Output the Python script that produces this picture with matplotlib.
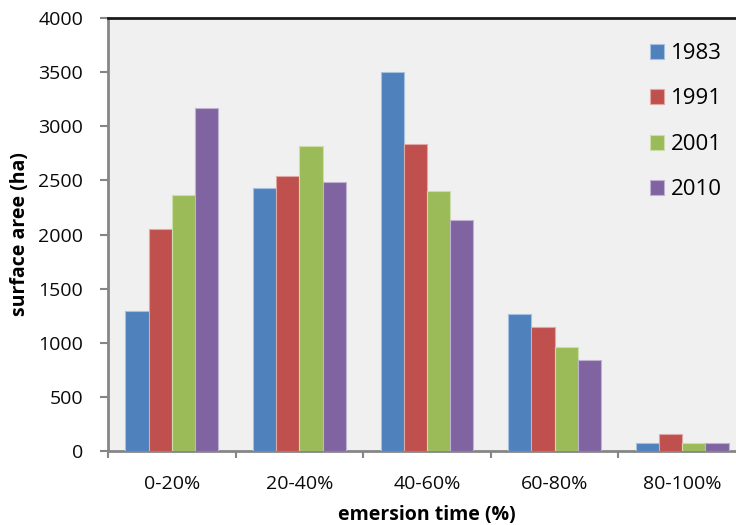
import matplotlib
matplotlib.use("Agg")
import matplotlib.pyplot as plt
import numpy as np

plt.rcParams['font.family'] = ['Open Sans', 'DejaVu Sans']

categories = ["0-20%", "20-40%", "40-60%", "60-80%", "80-100%"]
years = ["1983", "1991", "2001", "2010"]
area_1983 = [1290, 2425, 3505, 1270, 75]
area_1991 = [2050, 2545, 2835, 1150, 155]
area_2001 = [2365, 2820, 2405, 960, 75]
area_2010 = [3170, 2485, 2130, 840, 75]
series = [area_1983, area_1991, area_2001, area_2010]
colors = ["#4F81BD", "#C0504D", "#9BBB59", "#8064A2"]
edge_colors = ["#A7C0DE", "#DFA7A6", "#CDDDAC", "#BFB1D0"]
y_ticks = [0, 500, 1000, 1500, 2000, 2500, 3000, 3500, 4000]

fig = plt.figure(figsize=(7.36, 5.25), dpi=100)
fig.patch.set_facecolor("white")
ax = fig.add_axes([108 / 736, 1 - 451 / 525, 638 / 736, 433 / 525])
ax.set_facecolor("#F0F0F0")

x = np.arange(len(categories))
bar_w = 0.1815
offsets = (np.arange(len(years)) - 1.5) * bar_w
for vals, yr, c, ec, off in zip(series, years, colors, edge_colors, offsets):
    ax.bar(x + off, vals, width=bar_w, color=c, edgecolor=ec, linewidth=0.8,
           label=yr, zorder=3)

ax.set_xlim(-0.5, len(categories) - 0.5)
ax.set_ylim(0, 4000)

# y axis
ax.set_yticks(y_ticks)
ax.set_yticklabels([str(v) for v in y_ticks], fontsize=14, color="#0A0A0A")
ax.tick_params(axis="y", direction="out", length=6, width=1.5, color="#868686", pad=12)

# x axis: ticks at category boundaries, labels at centres
ax.set_xticks(np.arange(len(categories) + 1) - 0.5)
ax.set_xticklabels([])
ax.tick_params(axis="x", which="major", direction="out", length=5, width=1.5, color="#868686")
ax.set_xticks(x, minor=True)
ax.set_xticklabels(categories, minor=True, fontsize=14, color="#0A0A0A")
ax.tick_params(axis="x", which="minor", length=0, pad=17)

for side in ["left", "bottom"]:
    ax.spines[side].set_color("#868686")
    ax.spines[side].set_linewidth(2)
ax.spines["top"].set_color("#1A1A1A")
ax.spines["top"].set_linewidth(2)
ax.spines["right"].set_visible(False)

ax.set_ylabel("surface aree (ha)", fontsize=14, fontweight="bold", labelpad=6)
ax.set_xlabel("emersion time (%)", fontsize=14, fontweight="bold", labelpad=9)

leg = ax.legend(loc="upper left", bbox_to_anchor=(650 / 736, 1 - 43 / 525),
                bbox_transform=fig.transFigure, frameon=False, fontsize=16,
                handlelength=0.65, handleheight=0.65, handletextpad=0.3,
                labelspacing=1.1, borderaxespad=0, borderpad=0)

fig.savefig("out.png", dpi=100)
